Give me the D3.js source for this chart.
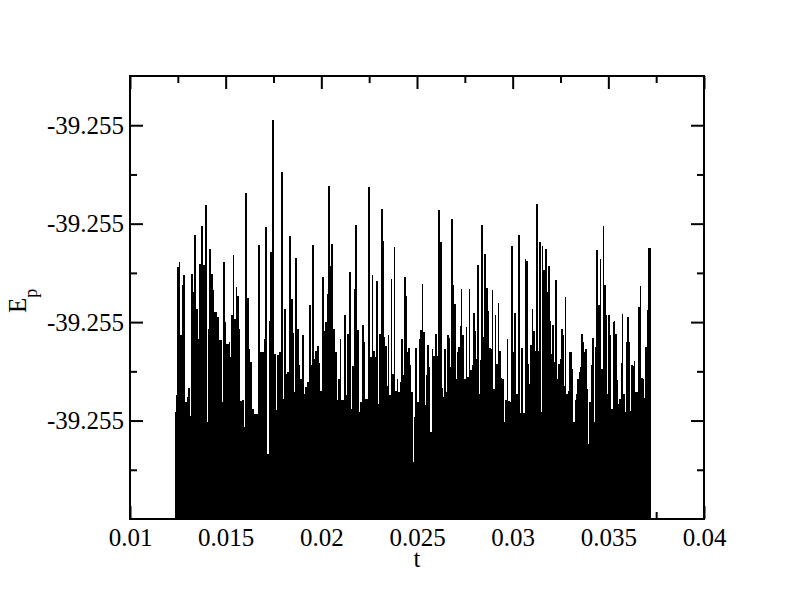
<!DOCTYPE html>
<html>
<head>
<meta charset="utf-8">
<script src="https://cdnjs.cloudflare.com/ajax/libs/d3/7.8.5/d3.min.js"></script>
<style>
  body { margin: 0; background: #fff; }
  svg text { font-family: "Liberation Serif", "Times New Roman", serif; fill: #000; }
</style>
</head>
<body>
<script>
// E_p against t. The values are offsets from -39.255 in units of 1e-6,
// which is why every y tick label reads the same "-39.255".

var t = [
  0.012352,0.012420,0.012472,0.012561,0.012629,0.012718,0.012770,0.012859,0.012963,0.013031,
  0.013120,0.013188,0.013277,0.013361,0.013449,0.013538,0.013606,0.013711,0.013800,0.013920,
  0.014024,0.014077,0.014145,0.014218,0.014322,0.014406,0.014547,0.014667,0.014793,0.014861,
  0.014949,0.015033,0.015174,0.015242,0.015294,0.015383,0.015451,0.015524,0.015592,0.015681,
  0.015749,0.015869,0.015958,0.016010,0.016115,0.016204,0.016287,0.016376,0.016481,0.016674,
  0.016779,0.016862,0.017003,0.017071,0.017160,0.017249,
  0.017317,0.017421,0.017526,0.017646,0.017683,0.017787,0.017892,0.017996,0.018049,0.018137,
  0.018221,0.018310,0.018399,0.018503,0.018587,0.018624,0.018712,0.018817,0.018901,0.018974,
  0.019078,0.019146,0.019251,0.019355,0.019444,0.019512,0.019617,0.019685,0.019773,0.019862,
  0.019946,0.020035,0.020124,0.020191,0.020280,0.020364,0.020453,0.020521,0.020610,0.020698,
  0.020803,0.020871,0.020960,0.021043,0.021117,0.021184,0.021273,0.021341,0.021430,0.021535,
  0.021603,0.021691,0.021775,0.021864,0.021968,0.022036,0.022125,0.022214,0.022298,0.022387,
  0.022454,
  0.022543,0.022632,0.022716,0.022789,0.022857,0.022946,0.022998,0.023103,0.023207,0.023275,
  0.023343,0.023416,0.023468,0.023552,0.023625,0.023709,0.023782,0.023866,0.023939,0.024022,
  0.024096,0.024164,0.024252,0.024320,0.024409,0.024477,0.024545,0.024634,0.024702,0.024775,
  0.024843,0.024911,0.025000,0.025089,0.025172,0.025261,0.025329,0.025402,0.025454,0.025538,
  0.025627,0.025695,0.025768,0.025852,0.025940,0.026029,0.026097,0.026186,0.026291,0.026359,
  0.026426,0.026500,0.026568,0.026656,0.026740,0.026777,0.026865,0.026933,0.027022,0.027090,
  0.027158,0.027231,0.027299,0.027367,0.027456,0.027545,0.027629,0.027702,
  0.027770,0.027859,0.027926,0.028015,0.028099,0.028151,0.028240,0.028292,0.028360,0.028449,
  0.028517,0.028606,0.028695,0.028778,0.028852,0.028904,0.028987,0.029061,0.029144,0.029217,
  0.029301,0.029374,0.029458,0.029547,0.029599,0.029688,0.029771,0.029845,0.029912,0.030001,
  0.030069,0.030158,0.030226,0.030294,0.030383,0.030435,0.030524,0.030576,0.030628,0.030712,
  0.030785,0.030853,0.030921,0.031010,0.031078,0.031151,0.031203,0.031308,0.031376,0.031465,
  0.031517,0.031601,0.031689,0.031778,0.031846,0.031935,0.032003,0.032071,0.032144,0.032212,
  0.032301,0.032369,0.032458,0.032526,0.032615,0.032667,0.032719,0.032803,0.032876,0.032928,
  0.032996,0.033085,0.033169,0.033242,0.033310,0.033378,0.033451,0.033519,0.033571,0.033660,
  0.033728,0.033796,0.033869,0.033937,0.033989,0.034078,0.034146,0.034235,0.034303,0.034371,
  0.034459,0.034548,0.034632,0.034705,0.034789,0.034862,0.034930,0.034998,0.035087,0.035155,
  0.035228,0.035296,0.035364,0.035437,0.035505,0.035573,0.035646,0.035714,0.035782,0.035855,
  0.035907,0.035975,0.036064,0.036132,0.036200,0.036273,0.036341,0.036409,0.036482,0.036550,
  0.036639,0.036722,0.036796,0.036864,0.036931,0.037005,0.037073,0.037214
];

var dEp = [
  -3.83,-3.49,-0.88,-0.78,-2.27,-1.25,-1.05,-3.62,-3.52,-3.34,
  -3.90,-1.02,-1.39,-0.24,-1.73,-2.34,-0.81,-0.05,-0.83,0.37,
  -4.03,-2.13,-0.51,-1.03,-1.34,-1.79,-1.90,-2.37,-3.62,-0.78,
  -2.00,-2.44,-2.40,-2.71,-1.85,-0.64,-1.93,-1.29,-1.46,-2.13,
  -3.61,-3.59,-4.13,0.62,-1.51,-2.54,-2.81,-3.76,-3.86,-0.44,
  -2.61,-2.60,-2.34,-0.07,-4.67,-1.97,
  -0.58,2.10,-2.64,-3.79,-2.66,-2.61,1.04,-3.56,-1.73,-3.06,
  -3.01,-0.26,-1.54,-2.22,-3.42,-0.69,-2.13,-2.87,-3.15,-2.26,
  -3.46,-3.32,-3.21,-1.66,-2.87,-0.43,-2.74,-2.58,-2.49,-2.83,
  -3.39,-1.08,-2.19,-1.99,-1.42,0.76,-0.85,-0.41,-2.13,-2.61,
  -3.59,-3.15,-2.34,-3.59,-3.59,-1.85,-3.48,-2.24,-0.98,-3.76,
  -2.89,-1.32,-0.02,-2.17,-3.83,-3.62,-2.05,-2.40,-3.56,-3.56,
  0.75,
  -2.71,-1.05,-2.58,-2.71,-1.16,-3.66,-2.24,0.30,-0.36,-2.30,
  -2.49,-3.29,-2.26,-3.49,-1.12,-3.05,-0.47,-3.39,-3.15,-3.43,
  -3.22,-2.34,-3.08,-1.08,-1.46,-2.60,-2.53,-2.88,-3.42,-4.84,
  -3.93,-2.53,-3.62,-2.34,-2.17,-1.22,-2.20,-3.68,-3.08,-2.46,
  -2.91,-4.23,-2.54,-2.68,-2.24,-2.68,0.28,-0.37,-3.34,-3.52,
  -2.55,-3.41,-2.26,-2.32,-2.91,0.10,-1.25,-1.63,-3.15,-2.61,
  -2.51,-2.07,-1.32,-2.26,-3.15,-2.10,-3.12,-1.32,
  -2.97,-2.88,-1.81,-2.19,-2.74,-0.83,-3.46,-2.76,-0.02,-2.30,
  -0.61,-1.30,-1.78,-2.53,-2.54,-1.34,-3.35,-1.86,-2.85,-1.61,
  -2.58,-3.14,-3.15,-4.02,-3.59,-2.34,-3.61,-3.62,-0.46,-2.60,
  -1.81,-3.46,-3.46,-0.24,-3.84,-2.53,-3.84,-3.84,-0.71,-0.75,
  -2.85,-3.25,-2.47,-1.73,-2.19,-2.58,0.39,-2.58,-0.37,-3.83,
  -0.46,-0.95,-0.52,-1.38,-0.85,-1.97,-2.64,-2.05,-2.81,-1.14,
  -3.15,-2.85,-2.74,-2.15,-2.26,-3.29,-1.48,-3.46,-3.39,-2.61,
  -2.61,-2.95,-4.03,-3.59,-3.46,-3.15,-3.01,-2.91,-2.24,-2.40,
  -2.61,-2.55,-3.35,-4.47,-3.62,-2.87,-2.32,-4.03,-2.51,-0.54,
  -1.66,-0.71,-2.95,-0.05,-1.25,-1.86,-3.46,-1.86,-2.27,-3.77,
  -2.00,-1.97,-2.24,-3.18,-3.66,-3.56,-2.83,-1.83,-3.46,-3.83,
  -2.40,-1.90,-2.40,-3.81,-2.88,-2.89,-2.78,-3.42,-3.42,-1.69,
  -1.27,-3.14,-3.15,-3.54,-2.51,-1.76,-0.49,-0.49
];

var xTicks = [0.01, 0.015, 0.02, 0.025, 0.03, 0.035, 0.04],
    xTickLabels = ["0.01", "0.015", "0.02", "0.025", "0.03", "0.035", "0.04"],
    xMinorTicks = [0.0125, 0.0175, 0.0225, 0.0275, 0.0325, 0.0375],
    yTicks = [-4, -2, 0, 2],
    yTickLabels = ["-39.255", "-39.255", "-39.255", "-39.255"],
    yMinorTicks = [-5, -3, -1, 1];

var w = 792,
    h = 612,
    plotLeft = 130, plotRight = 704,
    plotTop = 76, plotBottom = 519,
    fontSize = 25,
    major = 13, minor = 7;

var svg = d3.select("body").append("svg")
    .attr("width", w)
    .attr("height", h);

var x = d3.scaleLinear().domain([0.01, 0.04]).range([plotLeft, plotRight]);
var y = d3.scaleLinear().domain([-6, 3]).range([plotBottom, plotTop]);

var data = t.map(function(d, i){ return {t: d, v: dEp[i]}; });

svg.append("clipPath").attr("id", "plot")
  .append("rect")
    .attr("x", plotLeft).attr("y", plotTop)
    .attr("width", plotRight - plotLeft).attr("height", plotBottom - plotTop);

// the trace is so dense it reads as a black skyline down to the axis
var area = d3.area()
    .curve(d3.curveStepAfter)
    .x(function(d){ return x(d.t); })
    .y0(y(-6))
    .y1(function(d){ return y(d.v); });

svg.append("path")
    .datum(data)
    .attr("clip-path", "url(#plot)")
    .attr("d", area)
    .attr("fill", "#000")
    .attr("shape-rendering", "crispEdges");

// ticks on all four sides point inward
function drawAxis(axis, tx, ty, labels){
  var g = svg.append("g")
      .attr("transform", "translate(" + tx + "," + ty + ")")
      .call(axis);
  g.select(".domain").remove();
  g.selectAll(".tick line").attr("stroke", "#000").attr("stroke-width", 2);
  g.selectAll(".tick text")
      .attr("font-size", fontSize)
      .attr("font-family", "Liberation Serif, Times New Roman, serif")
      .attr("fill", "#000");
  if(!labels){ g.selectAll(".tick text").remove(); }
  return g;
}

drawAxis(d3.axisBottom(x).tickValues(xTicks).tickSize(-major).tickPadding(9)
    .tickFormat(function(d, i){ return xTickLabels[i]; }), 0, plotBottom, true);
drawAxis(d3.axisBottom(x).tickValues(xMinorTicks).tickSize(-minor), 0, plotBottom, false);
drawAxis(d3.axisTop(x).tickValues(xTicks).tickSize(-major), 0, plotTop, false);
drawAxis(d3.axisTop(x).tickValues(xMinorTicks).tickSize(-minor), 0, plotTop, false);

drawAxis(d3.axisLeft(y).tickValues(yTicks).tickSize(-major).tickPadding(6)
    .tickFormat(function(d, i){ return yTickLabels[i]; }), plotLeft, 0, true);
drawAxis(d3.axisLeft(y).tickValues(yMinorTicks).tickSize(-minor), plotLeft, 0, false);
drawAxis(d3.axisRight(y).tickValues(yTicks).tickSize(-major), plotRight, 0, false);
drawAxis(d3.axisRight(y).tickValues(yMinorTicks).tickSize(-minor), plotRight, 0, false);

svg.append("rect")
    .attr("x", plotLeft).attr("y", plotTop)
    .attr("width", plotRight - plotLeft).attr("height", plotBottom - plotTop)
    .attr("fill", "none")
    .attr("stroke", "#000")
    .attr("stroke-width", 2);

svg.append("text")
    .attr("x", (plotLeft + plotRight) / 2)
    .attr("y", 567)
    .attr("text-anchor", "middle")
    .attr("font-size", fontSize)
    .text("t");

var ylab = svg.append("text")
    .attr("transform", "translate(26,313) rotate(-90)")
    .attr("font-size", fontSize);
ylab.append("tspan").text("E");
ylab.append("tspan").attr("dy", 11).attr("font-size", 18).text("p");
</script>
</body>
</html>
